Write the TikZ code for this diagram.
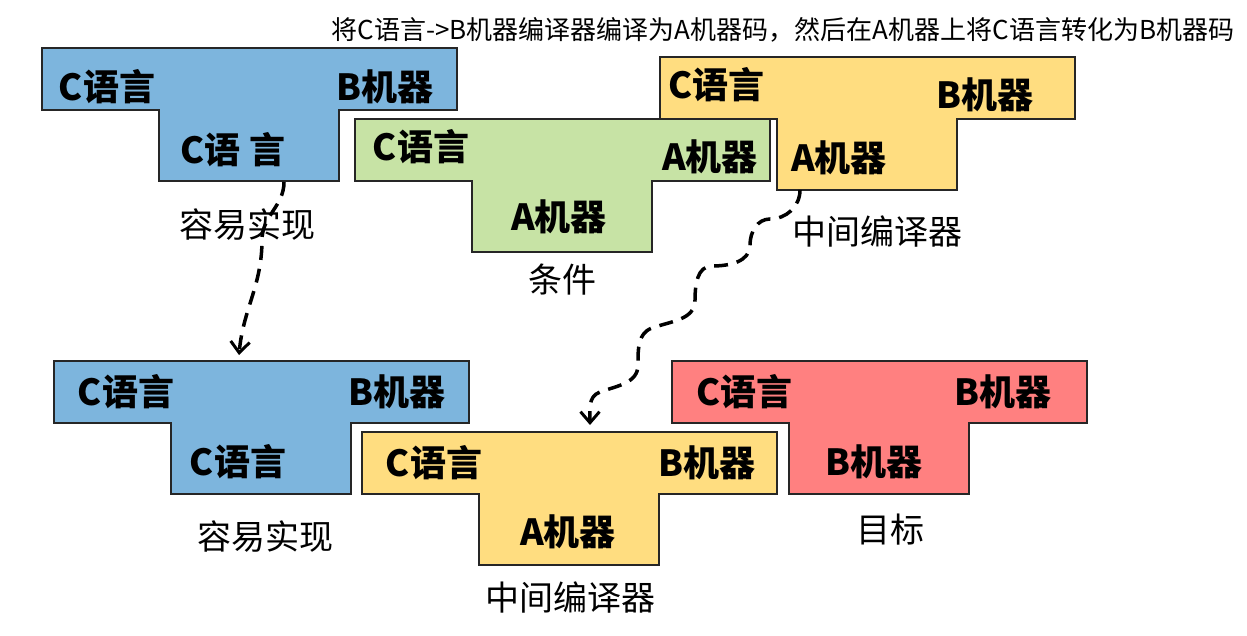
\documentclass[tikz,border=0pt]{standalone}
\usepackage{fontspec}
\setmainfont{Noto Sans CJK SC}
\usetikzlibrary{arrows.meta}

\definecolor{teeblue}{RGB}{125,181,221}
\definecolor{teegreen}{RGB}{199,227,165}
\definecolor{teeyellow}{RGB}{255,221,128}
\definecolor{teered}{RGB}{255,128,128}

\begin{document}
\begin{tikzpicture}[x=1pt, y=-1pt,
    tee/.style={draw=black!85, line width=1.5pt},
    tag/.style={font=\fontsize{36}{40}\selectfont\bfseries, inner sep=0pt},
    caption/.style={font=\fontsize{34}{40}\selectfont, inner sep=0pt},
    flow/.style={-{Straight Barb[length=11pt, width=19pt, line width=3pt]}, line width=3.5pt, dash pattern=on 14pt off 9pt},
]
\useasboundingbox (0,0) rectangle (1247,636);

% Title
\node[font=\fontsize{26}{30}\selectfont, inner sep=0pt] (title) at (783,30) {将C语言->B机器编译器编译为A机器码，然后在A机器上将C语言转化为B机器码};

% T-diagrams (bar 415x62, stem 180x71)
\foreach \n/\x/\y/\c in {easy1/42/48/teeblue, mid1/660/57/teeyellow, cond/355/119/teegreen, easy2/54/361/teeblue, mid2/362/432/teeyellow, goal/672/361/teered} {
    \draw[tee, fill=\c] (\x,\y) -- ++(415,0) -- ++(0,62) -- ++(-118,0) -- ++(0,71) -- ++(-180,0) -- ++(0,-71) -- ++(-117,0) -- cycle;
}

% Blue, top
\node[tag] (easy1-src) at (107,87) {C语言};
\node[tag] (easy1-tgt) at (385,87) {B机器};
\node[tag] (easy1-impl) at (233,150) {C语 言};
\node[caption] (easy1-cap) at (247,225) {容易实现};

% Green
\node[tag] (cond-src) at (421,147) {C语言};
\node[tag] (cond-tgt) at (710,157) {A机器};
\node[tag] (cond-impl) at (559,217) {A机器};
\node[caption] (cond-cap) at (562,280) {条件};

% Yellow, top
\node[tag] (mid1-src) at (716,85) {C语言};
\node[tag] (mid1-tgt) at (985,95) {B机器};
\node[tag] (mid1-impl) at (839,158) {A机器};
\node[caption] (mid1-cap) at (877,232) {中间编译器};

% Blue, bottom
\node[tag] (easy2-src) at (126,392) {C语言};
\node[tag] (easy2-tgt) at (397,392) {B机器};
\node[tag] (easy2-impl) at (238,462) {C语言};
\node[caption] (easy2-cap) at (265,537) {容易实现};

% Yellow, bottom
\node[tag] (mid2-src) at (434,463) {C语言};
\node[tag] (mid2-tgt) at (707,463) {B机器};
\node[tag] (mid2-impl) at (568,532) {A机器};
\node[caption] (mid2-cap) at (570,598) {中间编译器};

% Red
\node[tag] (goal-src) at (744,392) {C语言};
\node[tag] (goal-tgt) at (1003,392) {B机器};
\node[tag] (goal-impl) at (874,462) {B机器};
\node[caption] (goal-cap) at (890,530) {目标};

% Dashed arrows
\coordinate (easy1-foot) at (284,182);
\coordinate (easy2-top) at (239,355);
\coordinate (mid1-foot) at (800,190);
\coordinate (mid2-top) at (590,425);

\draw[flow] (easy1-foot) to[out=-90,in=90] (262,240) to[out=-90,in=85] (easy2-top);
\draw[flow] (mid1-foot) to[out=-90,in=0] (770,219) to[out=180,in=90] (750,245)
    to[out=-90,in=0] (712,266) to[out=180,in=90] (695,300) to[out=-90,in=20] (652,328)
    to[out=200,in=90] (638,365) to[out=-90,in=20] (600,392) to[out=200,in=90] (mid2-top);

\end{tikzpicture}
\end{document}
